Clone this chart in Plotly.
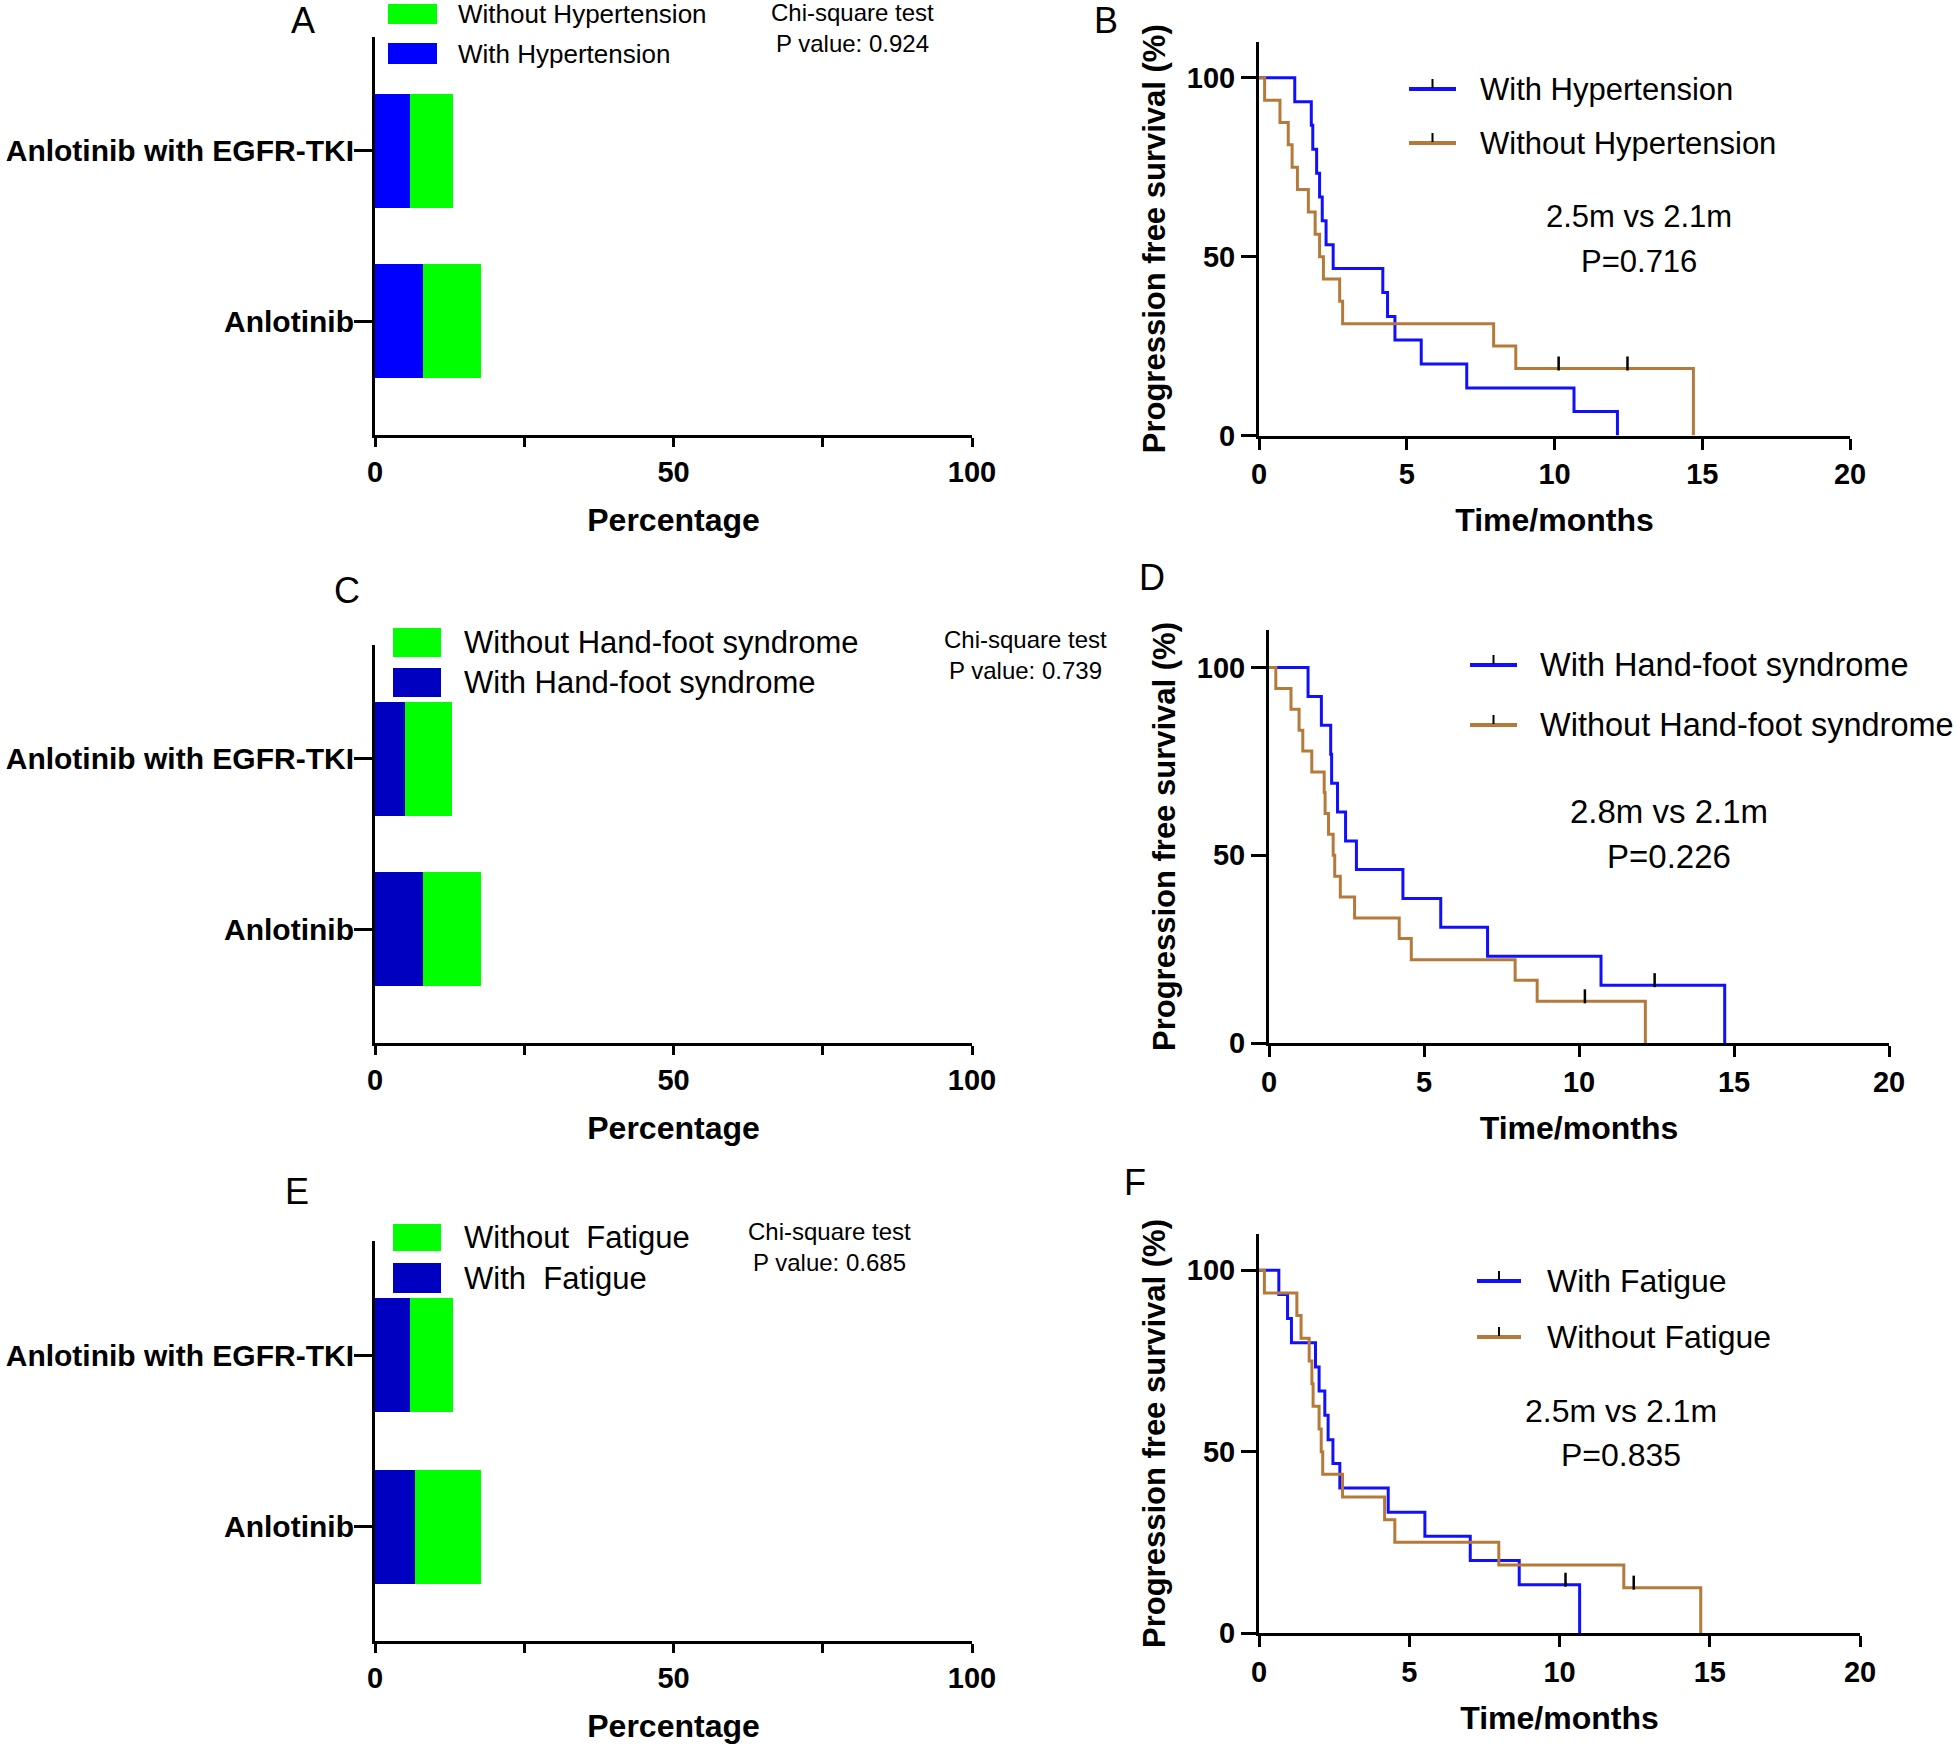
import plotly.graph_objects as go

W, H = 1960, 1746
def X(p): return p / W
def Y(p): return 1 - p / H

FONT = "Liberation Sans, Arial, sans-serif"
BLUE_A = "#0000ff"
BLUE_D = "#0000c0"
GREEN = "#00ff00"
KM_BLUE = "#1010ff"
KM_BROWN = "#b5793a"

# ---------------- bar data (percentage) ----------------
groups = ["Anlotinib", "Anlotinib with EGFR-TKI"]
A_with = [8.0, 5.9]
A_without = [9.8, 7.1]
C_with = [8.0, 5.0]
C_without = [9.8, 7.9]
E_with = [6.7, 5.8]
E_without = [11.1, 7.2]

# ---------------- KM data (time in months, survival %) ----------------
B_with_t = [0, 1.21, 1.77, 1.82, 1.95, 2.05, 2.14, 2.27, 2.51, 4.19, 4.35, 4.6, 5.49, 7.03, 10.66, 12.13]
B_with_s = [100, 93.3, 86.7, 80.0, 73.3, 66.7, 60.0, 53.3, 46.7, 40.0, 33.3, 26.7, 20.0, 13.3, 6.7, 0]
B_without_t = [0, 0.19, 0.71, 0.99, 1.12, 1.3, 1.67, 1.9, 2.05, 2.18, 2.73, 2.83, 7.94, 8.69, 14.7]
B_without_s = [100, 93.75, 87.5, 81.25, 75.0, 68.75, 62.5, 56.25, 50.0, 43.75, 37.5, 31.25, 25.0, 18.75, 0]
B_without_cens_t = [10.14, 12.47]
B_without_cens_s = [18.75, 18.75]

D_with_t = [0, 1.26, 1.69, 1.99, 2.02, 2.21, 2.47, 2.82, 4.32, 5.54, 7.05, 10.71, 14.7]
D_with_s = [100, 92.3, 84.6, 76.9, 69.2, 61.5, 53.8, 46.2, 38.5, 30.8, 23.1, 15.4, 0]
D_with_cens_t = [12.44]
D_with_cens_s = [15.4]
D_without_t = [0, 0.22, 0.71, 0.97, 1.09, 1.38, 1.78, 1.81, 1.92, 2.07, 2.12, 2.3, 2.76, 4.2, 4.59, 7.94, 8.65, 12.14]
D_without_s = [100, 94.4, 88.9, 83.3, 77.8, 72.2, 66.7, 61.1, 55.6, 50.0, 44.4, 38.9, 33.3, 27.8, 22.2, 16.7, 11.1, 0]
D_without_cens_t = [10.19]
D_without_cens_s = [11.1]

F_with_t = [0, 0.66, 0.95, 1.08, 1.88, 2.0, 2.19, 2.3, 2.46, 2.69, 4.3, 5.52, 7.03, 8.66, 10.67]
F_with_s = [100, 93.3, 86.7, 80.0, 73.3, 66.7, 60.0, 53.3, 46.7, 40.0, 33.3, 26.7, 20.0, 13.3, 0]
F_with_cens_t = [10.2]
F_with_cens_s = [13.3]
F_without_t = [0, 0.18, 1.26, 1.4, 1.67, 1.76, 1.8, 2.0, 2.07, 2.12, 2.78, 4.18, 4.52, 7.98, 12.14, 14.7]
F_without_s = [100, 93.75, 87.5, 81.25, 75.0, 68.75, 62.5, 56.25, 50.0, 43.75, 37.5, 31.25, 25.0, 18.75, 12.5, 0]
F_without_cens_t = [12.47]
F_without_cens_s = [12.5]

fig = go.Figure()

# ---------------- bars ----------------
bar_panels = [
    ("x", "y", A_with, A_without, BLUE_A, "With Hypertension", "Without Hypertension"),
    ("x3", "y3", C_with, C_without, BLUE_D, "With Hand-foot syndrome", "Without Hand-foot syndrome"),
    ("x5", "y5", E_with, E_without, BLUE_D, "With Fatigue", "Without Fatigue"),
]
for xa, ya, w, wo, bcol, n1, n2 in bar_panels:
    fig.add_trace(go.Bar(y=groups, x=w, orientation="h", marker=dict(color=bcol, line=dict(width=0)),
                         width=0.667, xaxis=xa, yaxis=ya, showlegend=False, name=n1))
    fig.add_trace(go.Bar(y=groups, x=wo, orientation="h", marker=dict(color=GREEN, line=dict(width=0)),
                         width=0.667, xaxis=xa, yaxis=ya, showlegend=False, name=n2))

# ---------------- KM curves ----------------
km_panels = [
    ("x2", "y2", (B_with_t, B_with_s, [], []), (B_without_t, B_without_s, B_without_cens_t, B_without_cens_s),
     "With Hypertension", "Without Hypertension", 3.575),
    ("x4", "y4", (D_with_t, D_with_s, D_with_cens_t, D_with_cens_s), (D_without_t, D_without_s, D_without_cens_t, D_without_cens_s),
     "With Hand-foot syndrome", "Without Hand-foot syndrome", 3.75),
    ("x6", "y6", (F_with_t, F_with_s, F_with_cens_t, F_with_cens_s), (F_without_t, F_without_s, F_without_cens_t, F_without_cens_s),
     "With Fatigue", "Without Fatigue", 3.62),
]
for xa, ya, c1, c2, n1, n2, pxu in km_panels:
    for (t, s, ct, cs), col, nm in ((c1, KM_BLUE, n1), (c2, KM_BROWN, n2)):
        fig.add_trace(go.Scatter(x=t, y=s, mode="lines", line=dict(color=col, width=3, shape="hv"),
                                 xaxis=xa, yaxis=ya, showlegend=False, name=nm))
        if ct:
            off = 5.0 / pxu
            fig.add_trace(go.Scatter(x=ct, y=[v + off for v in cs], mode="markers",
                                     marker=dict(symbol="line-ns", size=10, color="black",
                                                 line=dict(color="black", width=2.5)),
                                     xaxis=xa, yaxis=ya, showlegend=False, name=nm))

# ---------------- axes ----------------
tickfont = dict(family=FONT, size=29, color="black", weight="bold")
titlefont = dict(family=FONT, size=32, color="black", weight="bold")
line_common = dict(showline=True, linecolor="black", linewidth=3, ticks="outside", tickcolor="black",
                   tickwidth=3, showgrid=False, zeroline=False, fixedrange=True, automargin=False)

bar_x_dom = [X(375), X(972)]
bar_y_doms = [[Y(435), Y(37)], [Y(1043), Y(645)], [Y(1641), Y(1241)]]
km_x_doms = [[X(1259), X(1850)], [X(1269), X(1889)], [X(1259), X(1860)]]
km_y_doms = [[Y(435.5), Y(42)], [Y(1043), Y(630)], [Y(1633), Y(1234)]]

layout_axes = {}
for i, (xa, ya) in enumerate([("xaxis", "yaxis"), ("xaxis3", "yaxis3"), ("xaxis5", "yaxis5")]):
    yref = ya.replace("axis", "")
    xref = xa.replace("axis", "")
    layout_axes[xa] = dict(domain=bar_x_dom, range=[0, 100], anchor=yref,
                           tickvals=[0, 25, 50, 75, 100], ticktext=["0", "", "50", "", "100"],
                           ticklen=9, tickfont=tickfont,
                           title=dict(text="Percentage", font=titlefont, standoff=22), **line_common)
    layout_axes[ya] = dict(domain=bar_y_doms[i], anchor=xref, type="category",
                           categoryorder="array", categoryarray=groups, range=[-0.667, 1.667],
                           ticklen=18, ticklabelstandoff=-6,
                           tickfont=dict(family=FONT, size=30, color="black", weight="bold"),
                           **line_common)

for i, (xa, ya) in enumerate([("xaxis2", "yaxis2"), ("xaxis4", "yaxis4"), ("xaxis6", "yaxis6")]):
    yref = ya.replace("axis", "")
    xref = xa.replace("axis", "")
    layout_axes[xa] = dict(domain=km_x_doms[i], range=[0, 20], anchor=yref,
                           tickvals=[0, 5, 10, 15, 20], ticklen=11, tickfont=tickfont,
                           title=dict(text="Time/months", font=titlefont, standoff=20), **line_common)
    layout_axes[ya] = dict(domain=km_y_doms[i], range=[0, 110], anchor=xref,
                           tickvals=[0, 50, 100], ticklen=15, tickfont=tickfont,
                           title=dict(text="Progression free survival (%)", font=dict(family=FONT, size=31, color="black", weight="bold"), standoff=12),
                           **line_common)

# ---------------- annotations ----------------
ann = []
def txt(x, y, s, size, bold=False, xanchor="center"):
    ann.append(dict(x=X(x), y=Y(y), xref="paper", yref="paper", text=s, showarrow=False,
                    xanchor=xanchor, yanchor="middle",
                    font=dict(family=FONT, size=size, color="black", weight="bold" if bold else "normal")))

for letter, x, y in [("A", 303, 21), ("B", 1106, 21), ("C", 347, 590), ("D", 1152, 578), ("E", 297, 1191), ("F", 1135, 1182)]:
    txt(x, y, letter, 36)

txt(852, 13, "Chi-square test", 24); txt(852, 43, "P value: 0.924", 24)
txt(1025, 639, "Chi-square test", 24); txt(1025, 670, "P value: 0.739", 24)
txt(829, 1231, "Chi-square test", 24); txt(829, 1262, "P value: 0.685", 24)

txt(1639, 216, "2.5m vs 2.1m", 31); txt(1639, 261, "P=0.716", 31)
txt(1669, 811, "2.8m vs 2.1m", 33); txt(1669, 856, "P=0.226", 33)
txt(1621, 1411, "2.5m vs 2.1m", 32); txt(1621, 1455, "P=0.835", 32)

shapes = []
# bar legends (large swatches)
bar_legends = [
    (388, 437, (4, 24), (43, 64), BLUE_A, "Without Hypertension", "With Hypertension", 456, 26),
    (393, 441, (628, 657), (668, 697), BLUE_D, "Without Hand-foot syndrome", "With Hand-foot syndrome", 462, 31),
    (393, 441, (1224, 1251), (1263, 1293), BLUE_D, "Without \u00a0Fatigue", "With \u00a0Fatigue", 462, 31),
]
for x0, x1, g, b, bcol, t1, t2, tx, fs in bar_legends:
    shapes.append(dict(type="rect", xref="paper", yref="paper", x0=X(x0), x1=X(x1), y0=Y(g[1]), y1=Y(g[0]),
                       fillcolor=GREEN, line=dict(width=0)))
    shapes.append(dict(type="rect", xref="paper", yref="paper", x0=X(x0), x1=X(x1), y0=Y(b[1]), y1=Y(b[0]),
                       fillcolor=bcol, line=dict(width=0)))
    txt(tx, (g[0] + g[1]) / 2, t1, fs, xanchor="left")
    txt(tx, (b[0] + b[1]) / 2, t2, fs, xanchor="left")

# KM legends (line sample with censor tick)
km_legends = [
    (1409, 1456, (89, 143), "With Hypertension", "Without Hypertension", 1478, 31),
    (1470, 1517, (665, 725), "With Hand-foot syndrome", "Without Hand-foot syndrome", 1538, 32.5),
    (1477, 1521, (1281, 1337), "With Fatigue", "Without Fatigue", 1545, 32),
]
for x0, x1, ys, t1, t2, tx, fs in km_legends:
    for yy, col, t in ((ys[0], KM_BLUE, t1), (ys[1], KM_BROWN, t2)):
        shapes.append(dict(type="line", xref="paper", yref="paper", x0=X(x0), x1=X(x1), y0=Y(yy), y1=Y(yy),
                           line=dict(color=col, width=4)))
        xm = (x0 + x1) / 2
        shapes.append(dict(type="line", xref="paper", yref="paper", x0=X(xm), x1=X(xm), y0=Y(yy - 1), y1=Y(yy - 10),
                           line=dict(color="black", width=2)))
        txt(tx, yy, t, fs, xanchor="left")

fig.update_layout(
    width=W, height=H, margin=dict(l=0, r=0, t=0, b=0, autoexpand=False),
    paper_bgcolor="white", plot_bgcolor="white", barmode="stack",
    showlegend=False,
    annotations=ann, shapes=shapes,
    **layout_axes,
)

fig.write_html("out.html", config={"displayModeBar": False},
               post_script="document.body.style.margin='0';document.body.style.overflow='hidden';")
